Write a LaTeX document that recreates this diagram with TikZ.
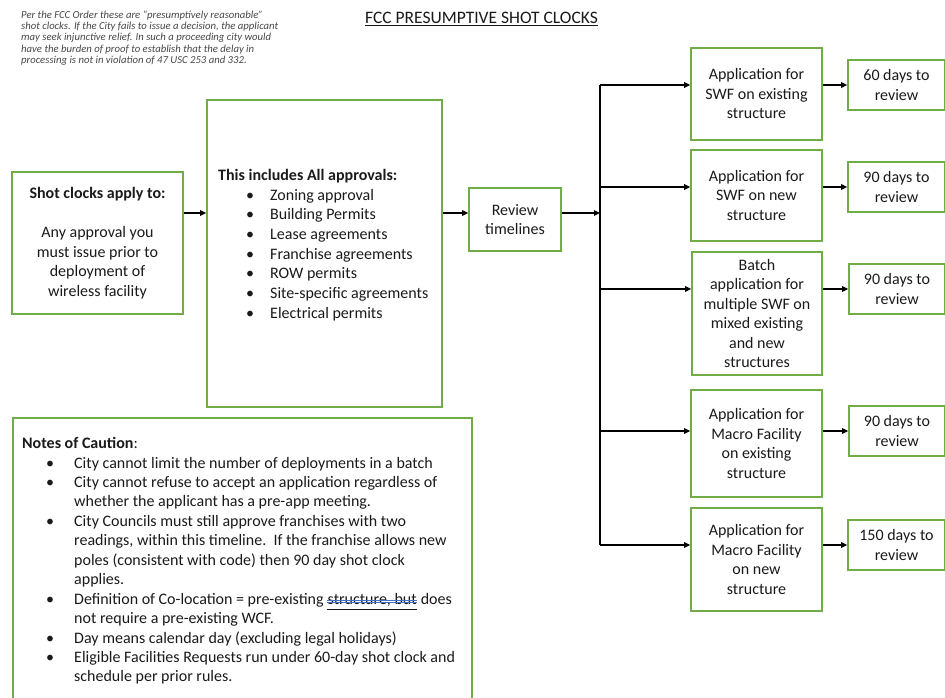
\documentclass[tikz,border=0pt]{standalone}
\usepackage{fontspec}
\setmainfont{Carlito}
\usetikzlibrary{arrows.meta}
\definecolor{gr}{HTML}{70AD47}
\definecolor{txt}{HTML}{1A1A1A}
\definecolor{ublue}{HTML}{4472C4}
\newcommand\fs{\fontsize{16}{19.5}\selectfont}
\newcommand\fsmall{\fontsize{10.7}{11.3}\selectfont}
\newcommand\ftitle{\fontsize{17.5}{20}\selectfont}
\tikzset{
  gbox/.style={draw=gr, line width=1.6pt, rectangle, inner sep=0pt, align=center, font=\fs, text=txt},
  arr/.style={-{Triangle[length=6pt,width=5.5pt]}, line width=1.3pt, black},
  bline/.style={line width=1.3pt, black},
  ltext/.style={anchor=base west, inner sep=0pt, font=\fs, text=txt},
  bul/.style={anchor=base, inner sep=0pt, font=\fs, text=txt},
  itext/.style={anchor=base west, inner sep=0pt, font=\fsmall\itshape, text=black!72},
}
\begin{document}
\begin{tikzpicture}[x=1pt,y=-1pt]
\useasboundingbox (0,0) rectangle (945,698);

% italic note
\foreach \t [count=\i] in {{Per the FCC Order these are ``presumptively reasonable''},
  {shot clocks.  If the City fails to issue a decision, the applicant},
  {may seek injunctive relief.  In such a proceeding city would},
  {have the burden of proof to establish that the delay in},
  {processing is not in violation of 47 USC 253 and 332.}}
  \node[itext] (note\i) at (21,{18.3+11.3*(\i-1)}) {\t};

% title
\node[anchor=base, inner sep=0pt, font=\ftitle, text=txt] (title) at (481.5,24) {\underline{FCC PRESUMPTIVE SHOT CLOCKS}};

% left boxes
\node[gbox, minimum width=171pt, minimum height=142pt] (shot) at (97.5,243) {\textbf{Shot clocks apply to:}\\[19.5pt]Any approval you\\must issue prior to\\deployment of\\wireless facility};
\node[gbox, minimum width=235pt, minimum height=307pt] (appr) at (324.5,253.5) {};
\node[ltext] (apprh) at (218,180) {\textbf{This includes All approvals:}};
\foreach \t [count=\i] in {Zoning approval, Building Permits, Lease agreements, Franchise agreements, ROW permits, Site-specific agreements, Electrical permits}{
  \node[bul] (ab\i) at (250,{200+19.7*(\i-1)}) {\textbullet};
  \node[ltext] (at\i) at (270,{200+19.7*(\i-1)}) {\t};
}

\node[gbox, minimum width=92pt, minimum height=63pt] (review) at (515,219.5) {Review\\timelines};

% application boxes
\node[gbox, minimum width=131pt, minimum height=92pt] (a1) at (756.5,94) {Application for\\SWF on existing\\structure};
\node[gbox, minimum width=131pt, minimum height=91pt] (a2) at (756.5,195.5) {Application for\\SWF on new\\structure};
\node[gbox, minimum width=130pt, minimum height=123pt] (a3) at (757,313.5) {Batch\\application for\\multiple SWF on\\mixed existing\\and new\\structures};
\node[gbox, minimum width=131pt, minimum height=107pt] (a4) at (756.5,443.5) {Application for\\Macro Facility\\on existing\\structure};
\node[gbox, minimum width=131pt, minimum height=103pt] (a5) at (756.5,559.5) {Application for\\Macro Facility\\on new\\structure};

% result boxes
\node[gbox, minimum width=97pt, minimum height=50pt] (r1) at (896.5,85) {60 days to\\review};
\node[gbox, minimum width=97pt, minimum height=50pt] (r2) at (896.5,187) {90 days to\\review};
\node[gbox, minimum width=96pt, minimum height=50pt] (r3) at (897,289) {90 days to\\review};
\node[gbox, minimum width=96pt, minimum height=50pt] (r4) at (897,431) {90 days to\\review};
\node[gbox, minimum width=97pt, minimum height=50pt] (r5) at (896.5,545) {150 days to\\review};

% notes box
\node[gbox, minimum width=459pt, minimum height=290pt, anchor=north west] (notes) at (12,417) {};
\node[ltext] (nh) at (22,448) {\textbf{Notes of Caution}:};
\newcommand\nl[3]{\node[ltext] (#1) at (74,{468+19.45*#2}) {#3};}
\newcommand\nb[2]{\node[bul] (#1) at (50,{468+19.45*#2}) {\textbullet};}
\nb{nb1}{0}\nl{n0}{0}{City cannot limit the number of deployments in a batch}
\nb{nb2}{1}\nl{n1}{1}{City cannot refuse to accept an application regardless of}
\nl{n2}{2}{whether the applicant has a pre-app meeting.}
\nb{nb3}{3}\nl{n3}{3}{City Councils must still approve franchises with two}
\nl{n4}{4}{readings, within this timeline.\ \ If the franchise allows new}
\nl{n5}{5}{poles (consistent with code) then 90 day shot clock}
\nl{n6}{6}{applies.}
\nb{nb4}{7}\nl{n7}{7}{Definition of Co-location = pre-existing}
\node[ltext] (n7b) at ([xshift=3.6pt]n7.base east) {structure, but};
\node[ltext] (n7c) at ([xshift=3.6pt]n7b.base east) {does};
\draw[txt, line width=0.8pt] ([yshift=-4.8pt]n7b.base west) -- ([yshift=-4.8pt]n7b.base east);
\draw[ublue, line width=0.8pt] ([yshift=2pt]n7b.base west) -- ([yshift=2pt]n7b.base east);
\draw[ublue, line width=0.8pt] ([yshift=4pt]n7b.base west) -- ([yshift=4pt]n7b.base east);
\nl{n8}{8}{not require a pre-existing WCF.}
\nb{nb5}{9}\nl{n9}{9}{Day means calendar day (excluding legal holidays)}
\nb{nb6}{10}\nl{n10}{10}{Eligible Facilities Requests run under 60-day shot clock and}
\nl{n11}{11}{schedule per prior rules.}

% connectors
\coordinate (yA) at (0,213);
\coordinate (bus) at (600,0);
\draw[arr] (shot.east |- yA) -- (appr.west |- yA);
\draw[arr] (appr.east |- yA) -- (review.west |- yA);
\draw[arr] (review.east |- yA) -- (bus |- yA);
\draw[bline] (bus |- r1) -- (bus |- r5);
\foreach \k in {1,...,5}{
  \draw[arr] (bus |- r\k) -- (a\k.west |- r\k);
  \draw[arr] (a\k.east |- r\k) -- (r\k.west);
}
\end{tikzpicture}
\end{document}
